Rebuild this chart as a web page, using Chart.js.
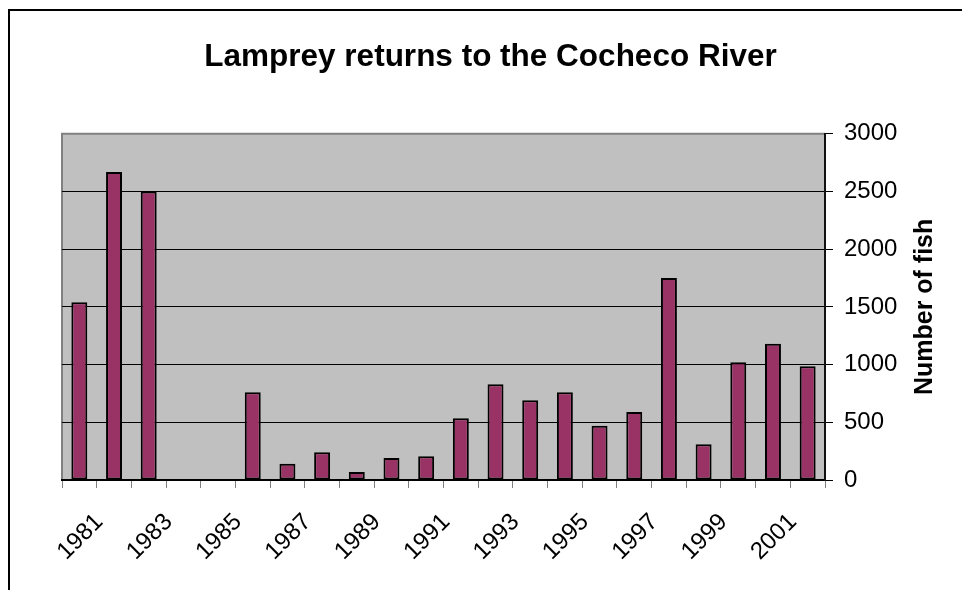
<!DOCTYPE html>
<html>
<head>
<meta charset="utf-8">
<script src="https://cdn.jsdelivr.net/npm/chart.js@4.4.1/dist/chart.umd.min.js"></script>
<style>
  html, body { margin: 0; padding: 0; background: #fff; }
  #wrap { position: relative; width: 962px; height: 590px; overflow: hidden; }
  #frame { position: absolute; left: 8px; top: 9px; width: 970px; height: 600px;
           border-top: 2px solid #000; border-left: 2px solid #000; pointer-events: none; }
</style>
</head>
<body>
<div id="wrap">
  <canvas id="lamprey" width="962" height="590"></canvas>
  <div id="frame"></div>
</div>
<script>
// data
const years = ['1981','1982','1983','1984','1985','1986','1987','1988','1989','1990','1991',
               '1992','1993','1994','1995','1996','1997','1998','1999','2000','2001','2002'];
const fishCounts = [1540, 2670, 2500, null, null, 760, 140, 240, 70, 190, 205,
                    535, 830, 690, 760, 470, 590, 1750, 310, 1020, 1180, 985];
const yTicks = [0, 500, 1000, 1500, 2000, 2500, 3000];

Chart.defaults.font.family = 'Arial, "Liberation Sans", sans-serif';
Chart.defaults.color = '#000';

// gray plot area with gray top/left edge
const plotBg = {
  id: 'plotBg',
  beforeDraw(chart) {
    const { ctx, chartArea: a } = chart;
    ctx.save();
    ctx.fillStyle = '#c0c0c0';
    ctx.fillRect(a.left, a.top, a.right - a.left, a.bottom - a.top);
    ctx.strokeStyle = '#808080';
    ctx.lineWidth = 2;
    ctx.beginPath();
    ctx.moveTo(a.left, a.bottom);
    ctx.lineTo(a.left, a.top);
    ctx.lineTo(a.right, a.top);
    ctx.stroke();
    ctx.restore();
  }
};

// right axis title reads bottom to top
const rightTitle = {
  id: 'rightTitle',
  afterDraw(chart) {
    const { ctx, chartArea: a } = chart;
    ctx.save();
    ctx.translate(925, (a.top + a.bottom) / 2);
    ctx.rotate(-Math.PI / 2);
    ctx.font = 'bold 25px Arial, "Liberation Sans", sans-serif';
    ctx.fillStyle = '#000';
    ctx.textAlign = 'center';
    ctx.textBaseline = 'middle';
    ctx.fillText('Number of fish', 0, 0);
    ctx.restore();
  }
};

new Chart(document.getElementById('lamprey'), {
  type: 'bar',
  data: {
    labels: years,
    datasets: [{
      label: 'Lamprey',
      data: fishCounts,
      backgroundColor: '#993366',
      borderColor: '#000',
      borderWidth: 2,
      borderSkipped: false,
      categoryPercentage: 1,
      barPercentage: 0.46
    }]
  },
  options: {
    responsive: false,
    animation: false,
    devicePixelRatio: 1,
    layout: { padding: { left: 19, right: 0, top: 0, bottom: 0 } },
    plugins: {
      legend: { display: false },
      tooltip: { enabled: false },
      title: {
        display: true,
        text: 'Lamprey returns to the Cocheco River',
        font: { size: 31.5, weight: 'bold' },
        color: '#000',
        padding: { top: 38, bottom: 58 }
      }
    },
    scales: {
      x: {
        grid: { offset: true, drawOnChartArea: false, color: '#808080', tickLength: 8 },
        border: { display: true, color: '#000', width: 2 },
        ticks: {
          autoSkip: false,
          minRotation: 45,
          maxRotation: 45,
          padding: 20,
          labelOffset: 20,
          font: { size: 24 },
          callback: (v, i) => (i % 2 === 0 ? years[i] : '')
        },
        afterFit: s => { s.height = 110; }
      },
      y: {
        position: 'right',
        min: 0,
        max: 3000,
        afterBuildTicks: s => { s.ticks = yTicks.map(v => ({ value: v })); },
        grid: {
          color: c => (c.tick && c.tick.value === 3000 ? '#808080' : '#000'),
          tickColor: '#000',
          tickLength: 8,
          lineWidth: 1
        },
        border: { display: true, color: '#111', width: 2 },
        ticks: { padding: 11, font: { size: 24 }, callback: v => String(v) },
        afterFit: s => { s.width = 137; }
      },
      spacer: {
        type: 'linear',
        position: 'left',
        display: true,
        grid: { display: false },
        border: { display: false },
        ticks: { display: false },
        afterFit: s => { s.width = 43; }
      }
    }
  },
  plugins: [plotBg, rightTitle]
});
</script>
</body>
</html>
